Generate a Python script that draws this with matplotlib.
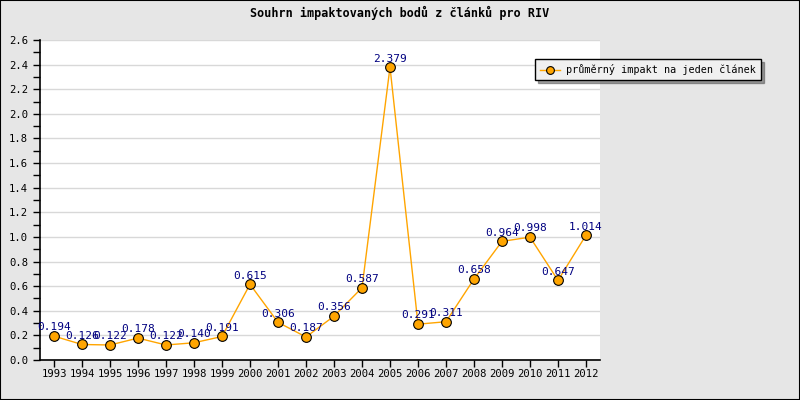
import matplotlib
matplotlib.use("Agg")
import matplotlib.pyplot as plt
from matplotlib.ticker import MultipleLocator
import matplotlib.patches as mpatches

years = ["1993", "1994", "1995", "1996", "1997", "1998", "1999", "2000", "2001", "2002",
         "2003", "2004", "2005", "2006", "2007", "2008", "2009", "2010", "2011", "2012"]
values = [0.194, 0.126, 0.122, 0.178, 0.122, 0.140, 0.191, 0.615, 0.306, 0.187,
          0.356, 0.587, 2.379, 0.291, 0.311, 0.658, 0.964, 0.998, 0.647, 1.014]
series_name = "průměrný impakt na jeden článek"
title = "Souhrn impaktovaných bodů z článků pro RIV"

mono = ["DejaVu Sans Mono"]

fig = plt.figure(figsize=(8, 4), dpi=100, facecolor="#e6e6e6")
fig.patches.append(mpatches.Rectangle((0, 0), 1, 1, transform=fig.transFigure,
                                      fill=False, edgecolor="black", linewidth=1.5, zorder=10))
ax = fig.add_axes([40/800, 40/400, 560/800, 320/400])
ax.set_facecolor("white")
x = list(range(len(years)))
ax.plot(x, values, color="#ffa500", linewidth=1, marker="o", markersize=7,
        markerfacecolor="#ffa500", markeredgecolor="black", markeredgewidth=0.8,
        label=series_name, zorder=3, clip_on=False)
for xi, v in zip(x, values):
    ax.text(xi, v + 0.03, f"{v:.3f}", ha="center", va="bottom", color="#000080",
            fontsize=8, family=mono, zorder=4)

ax.set_xlim(-0.5, len(years) - 0.5)
ax.set_ylim(0, 2.6)
ax.set_xticks(x)
ax.set_xticklabels(years, fontsize=7.6, family=mono)
ax.yaxis.set_major_locator(MultipleLocator(0.2))
ax.yaxis.set_minor_locator(MultipleLocator(0.1))
ax.set_yticklabels([f"{t:.1f}" for t in ax.get_yticks()], fontsize=7.6, family=mono)
ax.grid(axis="y", which="major", color="#d8d8d8", linewidth=1)
ax.set_axisbelow(True)
for s in ["top", "right"]:
    ax.spines[s].set_visible(False)
ax.spines["left"].set_linewidth(1.2)
ax.spines["bottom"].set_linewidth(1.2)
ax.tick_params(axis="both", which="major", length=5, direction="out", width=1)
ax.tick_params(axis="y", which="minor", length=5, direction="out", width=1)
ax.tick_params(axis="x", pad=1.5)

fig.suptitle(title, y=0.985, fontsize=8.5, fontweight="bold", family=mono)

leg = fig.legend(loc="upper left", bbox_to_anchor=(535/800, 1 - 59/400),
                 prop={"family": mono, "size": 7.3}, frameon=True, fancybox=False,
                 shadow=True, borderpad=0.5, handlelength=2.0, handletextpad=0.6,
                 borderaxespad=0, markerscale=0.8)
leg.get_frame().set_edgecolor("black")
leg.get_frame().set_facecolor("#f0f0f0")
leg.get_frame().set_linewidth(1)

fig.savefig("out.png", dpi=100, facecolor=fig.get_facecolor())
